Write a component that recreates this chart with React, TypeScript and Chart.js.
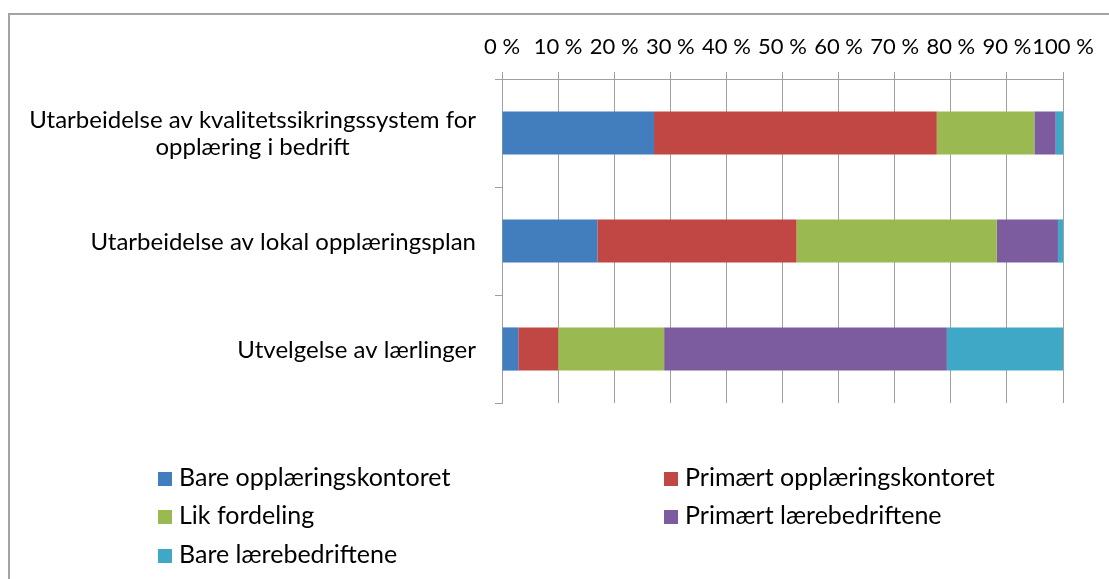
import React, { useEffect, useRef } from 'react';
import { Chart, registerables } from 'chart.js';

Chart.register(...registerables);

const categories: (string | string[])[] = [
  ['Utarbeidelse av kvalitetssikringssystem for', 'opplæring i bedrift'],
  'Utarbeidelse av lokal opplæringsplan',
  'Utvelgelse av lærlinger',
];

const seriesNames = [
  'Bare opplæringskontoret',
  'Primært opplæringskontoret',
  'Lik fordeling',
  'Primært lærebedriftene',
  'Bare lærebedriftene',
];

const bareOpplaering = [27.1, 17.0, 2.9];
const primaertOpplaering = [50.4, 35.5, 7.1];
const likFordeling = [17.4, 35.7, 18.9];
const primaertLaere = [3.8, 10.9, 50.4];
const bareLaere = [1.3, 0.9, 20.7];

const seriesValues = [bareOpplaering, primaertOpplaering, likFordeling, primaertLaere, bareLaere];
const seriesColors = ['#427DBD', '#C14744', '#9AB951', '#7C5C9F', '#3EA8C6'];

const tickLabels = ['0 %', '10 %', '20 %', '30 %', '40 %', '50 %', '60 %', '70 %', '80 %', '90 %', '100 %'];

const FONT = 'Lato, "Open Sans", sans-serif';
const GRID = '#a0a0a0';

const categoryLabelPlugin = {
  id: 'categoryLabels',
  afterDraw(chart: any) {
    const ctx = chart.ctx;
    const yScale = chart.scales.y;
    ctx.save();
    ctx.font = `24px ${FONT}`;
    ctx.fillStyle = '#000';
    ctx.textAlign = 'center';
    ctx.textBaseline = 'alphabetic';
    const capH = ctx.measureText('H').actualBoundingBoxAscent;
    const lineH = 27;
    const right = chart.chartArea.left - 26;
    categories.forEach((cat, i) => {
      const lines = Array.isArray(cat) ? cat : [cat];
      const w = Math.max(...lines.map((l) => ctx.measureText(l).width));
      const cx = right - w / 2;
      const cy = yScale.getPixelForValue(i);
      lines.forEach((l, j) => {
        ctx.fillText(l, cx, cy + capH / 2 + (j - (lines.length - 1) / 2) * lineH);
      });
    });
    ctx.restore();
  },
};

const legendPlugin = {
  id: 'twoColLegend',
  afterDraw(chart: any) {
    const ctx = chart.ctx;
    const colX = [158, 664];
    const rowBase = [486, 524, 563];
    const box = 14;
    ctx.save();
    ctx.font = `25px ${FONT}`;
    ctx.textAlign = 'left';
    ctx.textBaseline = 'alphabetic';
    chart.data.datasets.forEach((ds: any, i: number) => {
      const col = i % 2;
      const row = Math.floor(i / 2);
      const x = colX[col];
      const base = rowBase[row];
      ctx.fillStyle = ds.backgroundColor;
      ctx.fillRect(x, base - box, box, box);
      ctx.fillStyle = '#000';
      ctx.fillText(ds.label, x + box + 7, base);
    });
    ctx.restore();
  },
};

export default function App() {
  const ref = useRef<HTMLCanvasElement>(null);

  useEffect(() => {
    if (!ref.current) return;
    const chart = new Chart(ref.current, {
      type: 'bar',
      data: {
        labels: categories as any,
        datasets: seriesNames.map((name, i) => ({
          label: name,
          data: seriesValues[i],
          backgroundColor: seriesColors[i],
          borderWidth: 0,
          barPercentage: 0.4,
          categoryPercentage: 1,
        })),
      },
      options: {
        indexAxis: 'y',
        responsive: false,
        animation: false,
        layout: { padding: { top: 0, left: 0, right: 46, bottom: 176 } },
        plugins: { legend: { display: false }, tooltip: { enabled: false } },
        scales: {
          x: {
            position: 'top',
            stacked: true,
            min: 0,
            max: 100,
            ticks: {
              stepSize: 10,
              autoSkip: false,
              maxRotation: 0,
              minRotation: 0,
              padding: 12,
              color: '#000',
              font: { family: FONT, size: 22 },
              callback: (_v: any, i: number) => tickLabels[i],
            },
            grid: { color: GRID, tickLength: 7, lineWidth: 1 },
            border: { color: GRID, width: 1 },
            afterFit: (s: any) => {
              s.height = 79;
            },
          },
          y: {
            stacked: true,
            ticks: { display: false },
            grid: { drawOnChartArea: false, tickLength: 7, color: GRID, offset: true },
            border: { color: GRID, width: 1 },
            afterFit: (s: any) => {
              s.width = 502;
            },
          },
        },
      },
      plugins: [categoryLabelPlugin, legendPlugin],
    } as any);
    return () => chart.destroy();
  }, []);

  return (
    <div style={{ position: 'fixed', left: 0, top: 0, width: 1109, height: 579, overflow: 'hidden', background: '#fff' }}>
      <div
        style={{
          position: 'absolute',
          left: 8,
          top: 13,
          width: 1300,
          height: 800,
          borderLeft: '2px solid #a3a3a3',
          borderTop: '2px solid #a3a3a3',
        }}
      />
      <canvas ref={ref} width={1109} height={579} style={{ position: 'absolute', left: 0, top: 0 }} />
    </div>
  );
}
